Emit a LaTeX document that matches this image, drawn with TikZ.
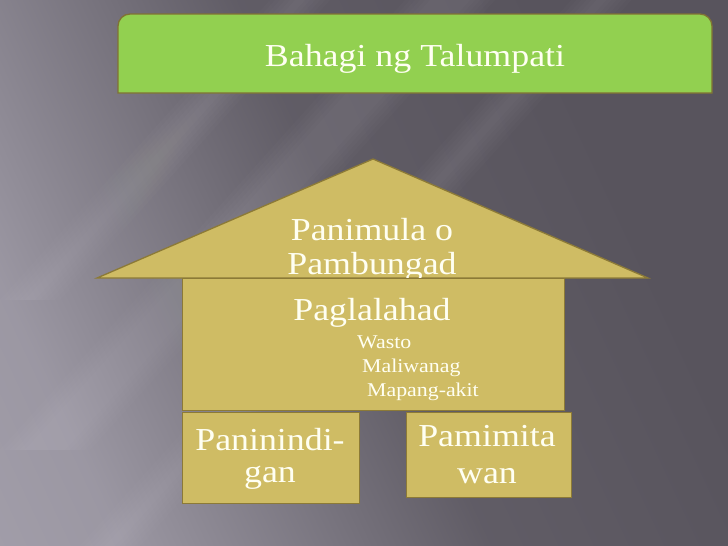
\documentclass[tikz,border=0pt]{standalone}
\usepackage{fontspec}
\setmainfont[FakeStretch=1.12]{Liberation Serif}
\usetikzlibrary{shapes,positioning}

\definecolor{slidebg}{RGB}{88,84,93}
\definecolor{slidelight}{RGB}{172,168,180}
\definecolor{tan}{RGB}{207,188,100}
\definecolor{tanline}{RGB}{140,122,55}
\definecolor{leaf}{RGB}{146,208,80}
\definecolor{leafline}{RGB}{128,114,52}
\definecolor{cream}{RGB}{255,255,242}

\pgfdeclarehorizontalshading{slideshade}{100bp}{color(0bp)=(slidelight);
  color(25bp)=(slidelight!80!slidebg); color(50bp)=(slidebg!90!slidelight);
  color(70bp)=(slidebg); color(100bp)=(slidebg)}

\begin{document}
\begin{tikzpicture}[x=1pt,y=-1pt,
  box/.style={draw=tanline, line width=1.3pt, fill=tan, inner sep=0pt, anchor=north west},
  txt/.style={text=cream, inner sep=0pt, anchor=base},
  big/.style={font=\fontsize{32}{34}\selectfont},
  small/.style={font=\fontsize{19.5}{22}\selectfont, anchor=base west}]
\useasboundingbox (0,0) rectangle (728,546);
\fill[slidebg] (0,0) rectangle (728,546);
\shade[shading=slideshade, shading angle=25] (0,0) rectangle (728,546);
\foreach \a/\b/\w in {0/300/60, 0/450/90, 80/546/60}{
  \foreach \k in {0,...,5}
    \fill[white, opacity=0.015] (\a+\k*5,\b) -- ++(\b*0.9,-\b) -- ++(\w-\k*10,0) -- ++(-\b*0.9,\b) -- cycle;
}

\draw[leafline, line width=1.3pt, fill=leaf] (118,93) -- (118,26)
  arc[start angle=180, end angle=270, radius=12] -- (700,14)
  arc[start angle=270, end angle=360, radius=12] -- (712,93) -- cycle;
\node[txt, big] (title) at (415,66) {Bahagi ng Talumpati};

\filldraw[draw=tanline, line width=1.3pt, fill=tan, line join=miter]
  (97,278) -- (373,159) -- (648,278) -- cycle;
\node[txt, big] (roof1) at (372,240) {Panimula o};
\node[txt, big] (roof2) at (372,274) {Pambungad};

\node[box, minimum width=382pt, minimum height=132pt] (body) at (182,278) {};
\node[txt, big] (main) at (372,320) {Paglalahad};
\node[txt, small] (wasto) at (357,348) {Wasto};
\node[txt, small] (malinaw) at (362,372) {Maliwanag};
\node[txt, small] (akit) at (367,396) {Mapang-akit};

\node[box, minimum width=177pt, minimum height=91pt] (legleft) at (182,412) {};
\node[txt, big] (left1) at (270,450) {Paninindi-};
\node[txt, big] (left2) at (270,482) {gan};

\node[box, minimum width=165pt, minimum height=85pt] (legright) at (406,412) {};
\node[txt, big] (right1) at (487,446) {Pamimita};
\node[txt, big] (right2) at (487,483) {wan};
\end{tikzpicture}
\end{document}
